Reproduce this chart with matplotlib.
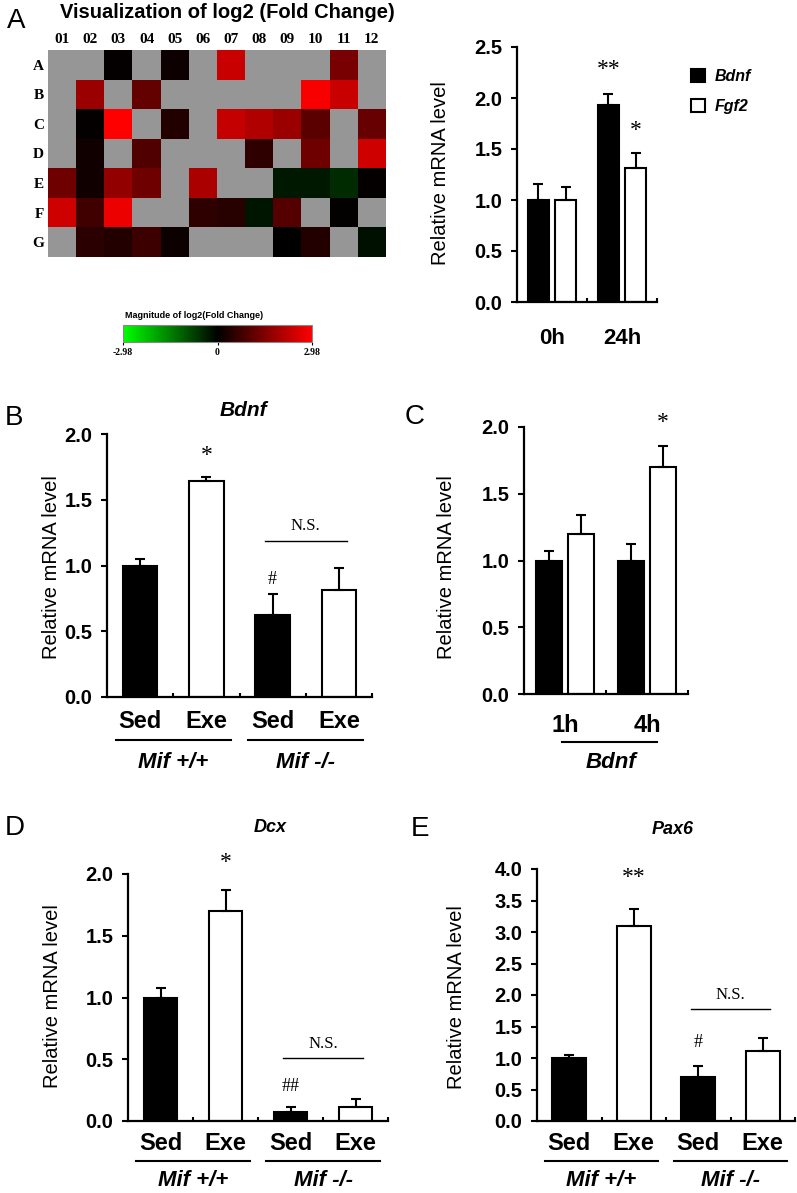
import numpy as np
import matplotlib.pyplot as plt
from matplotlib.colors import LinearSegmentedColormap
from matplotlib.transforms import blended_transform_factory

plt.rcParams['font.family'] = ['Liberation Sans', 'DejaVu Sans']

# ---- data ----
nan = np.nan
heat_cols = ['01', '02', '03', '04', '05', '06', '07', '08', '09', '10', '11', '12']
heat_rows = ['A', 'B', 'C', 'D', 'E', 'F', 'G']
row_a = [nan, nan, 0.05, nan, 0.15, nan, 2.35, nan, nan, nan, 1.4, nan]
row_b = [nan, 1.8, nan, 1.15, nan, nan, nan, nan, nan, 2.9, 2.35, nan]
row_c = [nan, 0.05, 2.98, nan, 0.4, nan, 2.3, 2.05, 1.8, 1.05, nan, 1.2]
row_d = [nan, 0.2, nan, 0.95, nan, nan, nan, 0.55, nan, 1.3, nan, 2.4]
row_e = [1.3, 0.2, 1.7, 1.3, nan, 2.0, nan, nan, -0.3, -0.3, -0.5, 0.05]
row_f = [2.4, 0.75, 2.75, nan, nan, 0.55, 0.45, -0.25, 1.0, nan, 0.03, nan]
row_g = [nan, 0.5, 0.4, 0.7, 0.15, nan, nan, nan, 0.02, 0.4, nan, -0.2]
heat_lim = 2.98

a_groups = ['0h', '24h']
a_bdnf = [1.0, 1.93]
a_bdnf_err = [0.16, 0.11]
a_fgf2 = [1.0, 1.31]
a_fgf2_err = [0.13, 0.15]

cond = ['Sed', 'Exe', 'Sed', 'Exe']
geno = ['Mif +/+', 'Mif -/-']
b_vals = [1.0, 1.64, 0.62, 0.81]
b_err = [0.05, 0.03, 0.16, 0.17]

c_groups = ['1h', '4h']
c_black = [1.0, 1.0]
c_black_err = [0.07, 0.12]
c_white = [1.2, 1.7]
c_white_err = [0.14, 0.16]

d_vals = [1.0, 1.7, 0.07, 0.11]
d_err = [0.08, 0.17, 0.04, 0.07]

e_vals = [1.0, 3.09, 0.70, 1.11]
e_err = [0.04, 0.27, 0.18, 0.20]

# ---- figure ----
W, H = 797, 1193
fig = plt.figure(figsize=(W / 100, H / 100), dpi=100)


def px_axes(l, t, r, b):
    return fig.add_axes([l / W, 1 - b / H, (r - l) / W, (b - t) / H])


def fy(y):
    return 1 - y / H


def style_bars(ax, ymax, step, ncat):
    ax.set_xlim(-0.5, ncat - 0.5)
    ax.set_ylim(0, ymax)
    ax.spines[['top', 'right']].set_visible(False)
    for s in ['left', 'bottom']:
        ax.spines[s].set_linewidth(1.6)
    ticks = np.arange(0, ymax + step / 2, step)
    ax.set_yticks(ticks)
    ax.set_yticklabels([f'{t:.1f}' for t in ticks], fontsize=14.5, fontweight='bold')
    ax.tick_params(axis='y', direction='out', length=4.5, width=1.5, pad=6)
    ax.set_xticks(np.arange(0.5, ncat, 1.0))
    ax.set_xticklabels([])
    ax.tick_params(axis='x', direction='in', length=3, width=1.5)


def bars(ax, x, vals, errs, color):
    ax.bar(x, vals, width=0.52 if len(x) > 2 else 0.31, color=color,
           edgecolor='k', linewidth=1.5, zorder=2)
    ax.errorbar(x, vals, yerr=[np.zeros(len(vals)), errs], fmt='none',
                ecolor='k', elinewidth=1.5, capsize=3.5, capthick=1.5, zorder=3)


def ylab(x, y):
    fig.text(x / W, fy(y), 'Relative mRNA level', rotation=90, fontsize=14.5,
             ha='center', va='center')


def serif(ax, x, y, s, size=13):
    ax.text(x, y, s, ha='center', va='center', fontsize=size,
            family=['Liberation Serif'], clip_on=False)


def mif_labels(ax, y_cond, y_line, y_geno, half=0.87):
    tr = blended_transform_factory(ax.transData, fig.transFigure)
    for i, c in enumerate(cond):
        ax.text(i, fy(y_cond), c, transform=tr, ha='center', va='center',
                fontsize=17, fontweight='bold')
    for g, c0 in zip(geno, [0.5, 2.5]):
        ax.plot([c0 - half, c0 + half], [fy(y_line)] * 2, transform=tr,
                color='k', lw=1.5, clip_on=False)
        ax.text(c0, fy(y_geno), g, transform=tr, ha='center', va='center',
                fontsize=16, fontweight='bold', style='italic')


def ns_bar(ax, y_line, y_text):
    ax.plot([1.88, 3.12], [y_line, y_line], color='k', lw=1.0, clip_on=False)
    serif(ax, 2.5, y_text, 'N.S.', 12)


# ---- A: heatmap ----
cmap = LinearSegmentedColormap.from_list('gkr', ['#00ff00', '#000000', '#ff0000'])
cmap.set_bad('#969696')
heat = np.array([row_a, row_b, row_c, row_d, row_e, row_f, row_g])
axh = px_axes(48, 50, 386, 257)
im = axh.imshow(np.ma.masked_invalid(heat), cmap=cmap, vmin=-heat_lim, vmax=heat_lim,
                aspect='auto', interpolation='nearest')
axh.xaxis.tick_top()
axh.set_xticks(range(len(heat_cols)))
axh.set_xticklabels(heat_cols, family=['Liberation Serif'], fontweight='bold', fontsize=11)
axh.set_yticks(range(len(heat_rows)))
axh.set_yticklabels(heat_rows, family=['Liberation Serif'], fontweight='bold', fontsize=11)
axh.tick_params(length=0, pad=3)
for s in axh.spines.values():
    s.set_visible(False)
fig.text(227 / W, fy(13), 'Visualization of log2 (Fold Change)', ha='center',
         va='center', fontsize=14.5, fontweight='bold')

cax = px_axes(123, 325, 312, 342)
cb = fig.colorbar(im, cax=cax, orientation='horizontal')
cb.set_ticks([-heat_lim, 0, heat_lim])
cb.set_ticklabels(['-2.98', '0', '2.98'])
cax.tick_params(labelsize=7, length=2, width=0.8, pad=2)
for lab in cax.get_xticklabels():
    lab.set_family(['Liberation Serif'])
    lab.set_fontweight('bold')
cb.outline.set_edgecolor('#888888')
cb.outline.set_linewidth(0.8)
fig.text(194 / W, fy(316), 'Magnitude of log2(Fold Change)', ha='center', va='center',
         fontsize=6.5, fontweight='bold')

# ---- A: bars ----
axa = px_axes(517, 47, 657, 302)
xa = np.arange(len(a_groups))
style_bars(axa, 2.5, 0.5, 2)
bars(axa, xa - 0.195, a_bdnf, a_bdnf_err, 'k')
bars(axa, xa + 0.195, a_fgf2, a_fgf2_err, 'white')
serif(axa, 1 - 0.195, 2.28, '**', 17)
serif(axa, 1 + 0.195, 1.68, '*', 17)
tra = blended_transform_factory(axa.transData, fig.transFigure)
for i, g in enumerate(a_groups):
    axa.text(i, fy(338), g, transform=tra, ha='center', va='center',
             fontsize=16, fontweight='bold')
h1 = plt.Rectangle((0, 0), 1, 1, fc='k', ec='k', lw=1.5)
h2 = plt.Rectangle((0, 0), 1, 1, fc='white', ec='k', lw=1.5)
leg = fig.legend([h1, h2], ['Bdnf', 'Fgf2'], loc='upper left',
                 bbox_to_anchor=(683 / W, fy(61)), frameon=False, borderpad=0,
                 handlelength=0.9, handleheight=0.9, handletextpad=0.6,
                 labelspacing=0.9, prop={'size': 11.5, 'weight': 'bold', 'style': 'italic'})
ylab(441, 173)

# ---- B ----
axb = px_axes(107, 434, 372, 697)
style_bars(axb, 2.0, 0.5, 4)
xb = np.arange(len(cond))
bars(axb, xb, b_vals, b_err, ['k', 'white', 'k', 'white'])
serif(axb, 1, 1.84, '*', 17)
serif(axb, 2, 0.89, '#', 13)
ns_bar(axb, 1.19, 1.30)
mif_labels(axb, 722, 740, 762)
fig.text(243 / W, fy(410), 'Bdnf', ha='center', va='center', fontsize=15,
         fontweight='bold', style='italic')
ylab(52, 567)

# ---- C ----
axc = px_axes(524, 427, 688, 694)
style_bars(axc, 2.0, 0.5, 2)
xc = np.arange(len(c_groups))
bars(axc, xc - 0.195, c_black, c_black_err, 'k')
bars(axc, xc + 0.195, c_white, c_white_err, 'white')
serif(axc, 1 + 0.195, 2.03, '*', 17)
trc = blended_transform_factory(axc.transData, fig.transFigure)
for i, g in enumerate(c_groups):
    axc.text(i, fy(725), g, transform=trc, ha='center', va='center',
             fontsize=17, fontweight='bold')
axc.plot([-0.04, 1.12], [fy(742)] * 2, transform=trc, color='k', lw=1.5, clip_on=False)
axc.text(0.56, fy(762), 'Bdnf', transform=trc, ha='center', va='center',
         fontsize=16, fontweight='bold', style='italic')
ylab(447, 567)

# ---- D ----
axd = px_axes(128, 874, 388, 1121)
style_bars(axd, 2.0, 0.5, 4)
bars(axd, xb, d_vals, d_err, ['k', 'white', 'k', 'white'])
serif(axd, 1, 2.09, '*', 17)
serif(axd, 2, 0.28, '##', 13)
ns_bar(axd, 0.51, 0.62)
mif_labels(axd, 1143, 1161, 1180)
fig.text(270 / W, fy(827), 'Dcx', ha='center', va='center', fontsize=13,
         fontweight='bold', style='italic')
ylab(53, 996)

# ---- E ----
axe = px_axes(537, 869, 795, 1121)
style_bars(axe, 4.0, 0.5, 4)
bars(axe, xb, e_vals, e_err, ['k', 'white', 'k', 'white'])
serif(axe, 1, 3.86, '**', 17)
serif(axe, 2, 1.24, '#', 13)
ns_bar(axe, 1.78, 2.0)
mif_labels(axe, 1143, 1161, 1180)
fig.text(673 / W, fy(830), 'Pax6', ha='center', va='center', fontsize=13,
         fontweight='bold', style='italic')
ylab(457, 997)

# ---- panel letters ----
for letter, x, y in [('A', 16, 21), ('B', 14, 418), ('C', 415, 417),
                     ('D', 15, 828), ('E', 420, 829)]:
    fig.text(x / W, fy(y), letter, ha='center', va='center', fontsize=20)

fig.savefig('out.png', dpi=100)
